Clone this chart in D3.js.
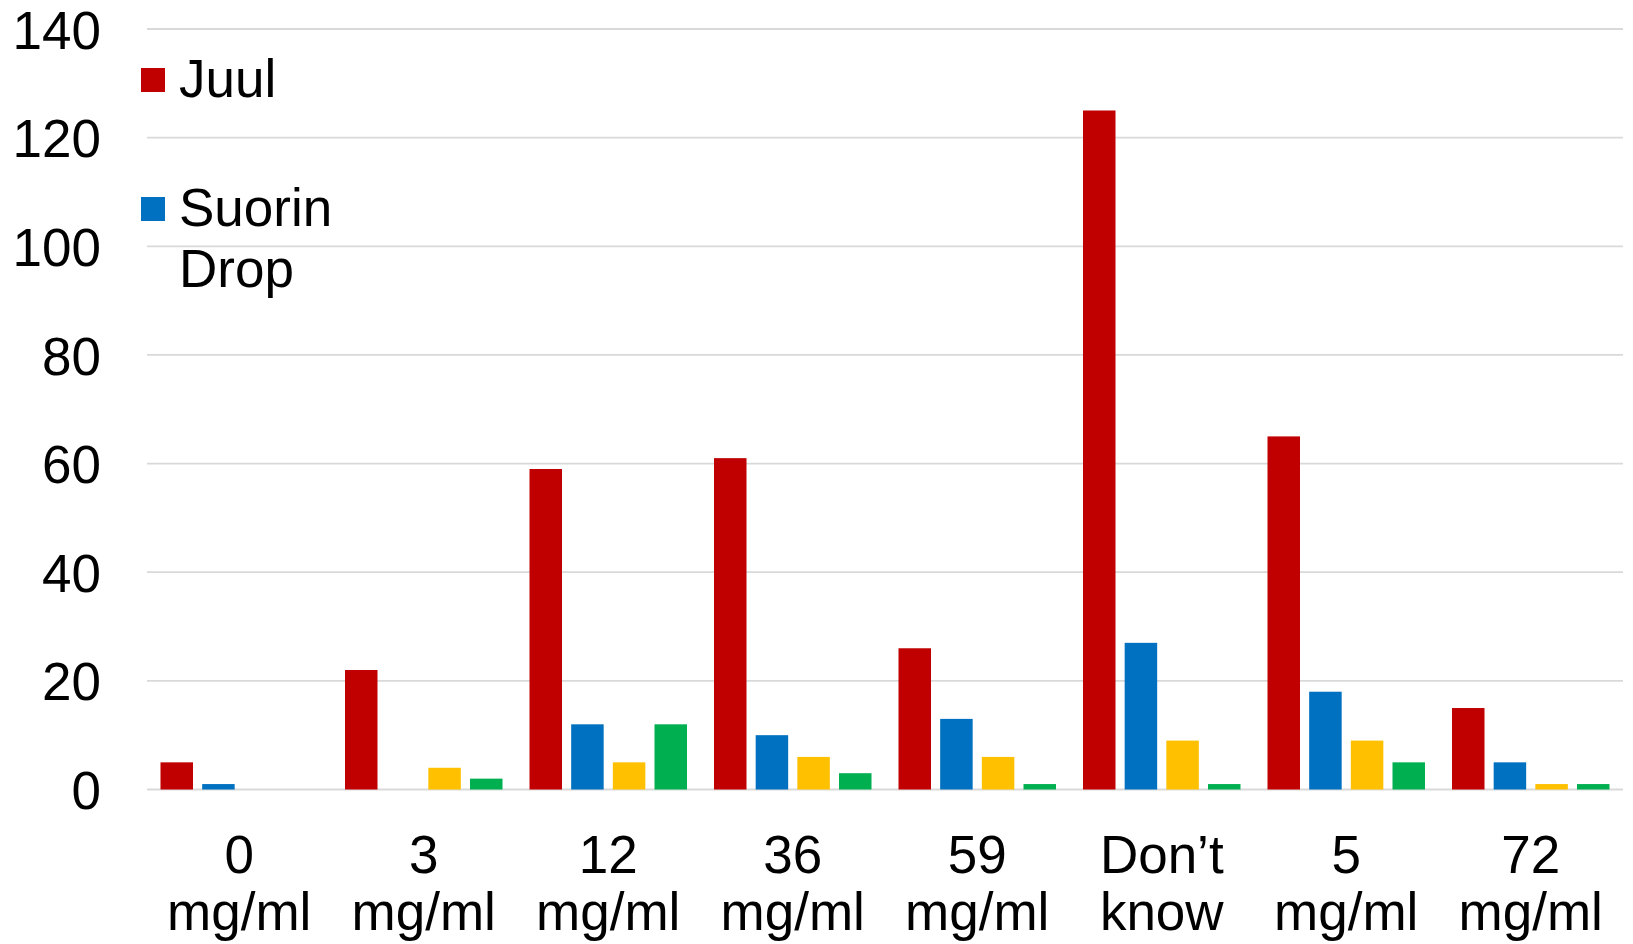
<!DOCTYPE html>
<html>
<head>
<meta charset="utf-8">
<script src="https://cdn.jsdelivr.net/npm/d3@7"></script>
<style>
  html, body { margin: 0; padding: 0; background: #fff; }
  svg text { font-family: "Liberation Sans", Arial, sans-serif; fill: #000; }
</style>
</head>
<body>
<svg id="chart" width="1633" height="944"></svg>
<script>
// categories (two-line labels)
const categories = [
  ['0', 'mg/ml'], ['3', 'mg/ml'], ['12', 'mg/ml'], ['36', 'mg/ml'],
  ['59', 'mg/ml'], ['Don\u2019t', 'know'], ['5', 'mg/ml'], ['72', 'mg/ml']
];
const seriesNames = ['Juul', 'Suorin Drop', 'Series 3', 'Series 4'];
const seriesColors = ['#C00000', '#0070C0', '#FFC000', '#00B050'];

// values per series, in category order
const juul   = [5, 22, 59, 61, 26, 125, 65, 15];
const suorin = [1, 0, 12, 10, 13, 27, 18, 5];
const third  = [0, 4, 5, 6, 6, 9, 9, 1];
const fourth = [0, 2, 12, 3, 1, 1, 5, 1];

const yTicks = [0, 20, 40, 60, 80, 100, 120, 140];

const series = [juul, suorin, third, fourth];

const svg = d3.select('#chart');
const plotLeft = 147, plotRight = 1623, plotTop = 29, plotBottom = 789.5;
const fontSize = 53;

// scales
const x0 = d3.scaleBand()
  .domain(d3.range(categories.length))
  .range([plotLeft, plotRight])
  .paddingInner(0)
  .paddingOuter(0);

const x1 = d3.scaleBand()
  .domain(d3.range(series.length))
  .range([13.5, x0.bandwidth() - 13.5])
  .paddingInner(0.22);

const y = d3.scaleLinear().domain([0, 140]).range([plotBottom, plotTop]);

// grid lines
svg.append('g')
  .selectAll('line')
  .data(yTicks)
  .enter()
  .append('line')
  .attr('x1', plotLeft)
  .attr('x2', plotRight)
  .attr('y1', d => y(d))
  .attr('y2', d => y(d))
  .attr('stroke', '#D9D9D9')
  .attr('stroke-width', 1.8);

// y axis labels
const yAxis = d3.axisLeft(y).tickValues(yTicks).tickSize(0).tickPadding(0);
const gy = svg.append('g')
  .attr('transform', 'translate(101,0)')
  .call(yAxis);
gy.select('.domain').remove();
gy.selectAll('text')
  .attr('font-size', fontSize)
  .attr('font-family', '"Liberation Sans", Arial, sans-serif')
  .attr('fill', '#000')
  .attr('dy', '0.36em');

// bars
const groups = svg.append('g')
  .selectAll('g')
  .data(categories)
  .enter()
  .append('g')
  .attr('transform', (d, i) => `translate(${x0(i)},0)`);

groups.selectAll('rect')
  .data((d, i) => series.map((s, k) => ({ k: k, v: s[i] })))
  .enter()
  .append('rect')
  .attr('x', d => x1(d.k))
  .attr('width', x1.bandwidth())
  .attr('y', d => y(d.v))
  .attr('height', d => y(0) - y(d.v))
  .attr('fill', d => seriesColors[d.k]);

// x axis labels (two lines)
const xLabels = svg.append('g')
  .selectAll('text')
  .data(categories)
  .enter()
  .append('text')
  .attr('text-anchor', 'middle')
  .attr('font-size', fontSize)
  .attr('x', (d, i) => x0(i) + x0.bandwidth() / 2)
  .attr('y', 873);

xLabels.selectAll('tspan')
  .data(d => d)
  .enter()
  .append('tspan')
  .attr('x', function () { return this.parentNode.getAttribute('x'); })
  .attr('dy', (d, i) => i === 0 ? 0 : 57)
  .text(d => d);

// legend (only the first two entries are visible)
const legendItems = [
  { name: ['Juul'], color: seriesColors[0], y: 97 },
  { name: ['Suorin', 'Drop'], color: seriesColors[1], y: 226 }
];

const legend = svg.append('g');
legendItems.forEach(item => {
  legend.append('rect')
    .attr('x', 141)
    .attr('y', item.y - 29)
    .attr('width', 24)
    .attr('height', 24)
    .attr('fill', item.color);
  let t = legend.append('text')
    .attr('font-size', fontSize)
    .attr('x', 179)
    .attr('y', item.y);
  item.name.forEach((line, i) => {
    t.append('tspan')
      .attr('x', 179)
      .attr('dy', i === 0 ? 0 : 61)
      .text(line);
  });
});
</script>
</body>
</html>
